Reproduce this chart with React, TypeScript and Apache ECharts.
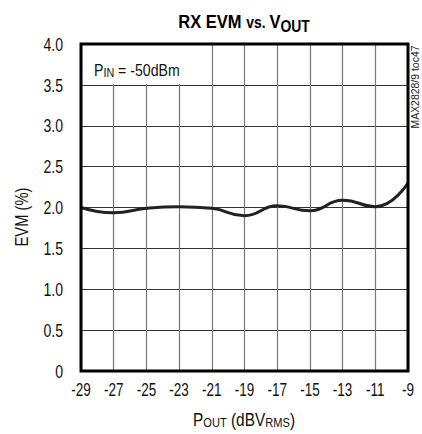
import React, { useEffect, useRef } from "react";
import * as echarts from "echarts";

const pout = [-29, -27, -25, -23, -21, -19, -17, -15, -13, -11, -9];
const evm = [2.0, 1.935, 1.99, 2.01, 1.99, 1.9, 2.02, 1.96, 2.09, 2.01, 2.3];
const xTicks = [-29, -27, -25, -23, -21, -19, -17, -15, -13, -11, -9];
const yTicks = [0, 0.5, 1.0, 1.5, 2.0, 2.5, 3.0, 3.5, 4.0];
const X0 = -29;

const FONT = "'Liberation Sans', Arial, Helvetica, sans-serif";

export default function App() {
  const ref = useRef<HTMLDivElement>(null);
  useEffect(() => {
    if (!ref.current) return;
    const chart = echarts.init(ref.current, undefined, { renderer: "svg" });
    chart.setOption({
      animation: false,
      backgroundColor: "#fff",
      grid: { left: 81, right: 14, top: 44, bottom: 63, show: false },
      xAxis: {
        type: "value",
        min: 0,
        max: xTicks[xTicks.length - 1] - X0,
        interval: 2,
        axisLine: { show: false },
        axisTick: { show: false },
        axisLabel: { show: false },
        splitLine: { show: true, lineStyle: { color: "#777", width: 1.2 } },
      },
      yAxis: {
        type: "value",
        min: 0,
        max: 4,
        interval: 0.5,
        axisLine: { show: false },
        axisTick: { show: false },
        axisLabel: { show: false },
        splitLine: { show: true, lineStyle: { color: "#333", width: 1 } },
      },
      series: [
        {
          type: "line",
          data: pout.map((p, i) => [p - X0, evm[i]]),
          smooth: 0.5,
          symbol: "none",
          lineStyle: { color: "#222", width: 3 },
          z: 5,
        },
      ],
    });

    const px = (x: number, y: number) =>
      chart.convertToPixel({ gridIndex: 0 }, [x, y]) as number[];
    const tl = px(0, 4);
    const br = px(xTicks[xTicks.length - 1] - X0, 0);

    const xLabels = xTicks.map((t) => {
      const p = px(t - X0, 0);
      return {
        type: "text",
        x: p[0],
        y: 390,
        scaleX: 0.75,
        style: {
          text: String(t),
          align: "center",
          verticalAlign: "middle",
          fontFamily: FONT,
          fontSize: 18,
          fill: "#111",
        },
      };
    });
    const yLabels = yTicks.map((t) => {
      const p = px(0, t);
      return {
        type: "text",
        x: 63,
        y: p[1],
        scaleX: 0.78,
        style: {
          text: t === 0 ? "0" : t.toFixed(1),
          align: "right",
          verticalAlign: "middle",
          fontFamily: FONT,
          fontSize: 18,
          fill: "#111",
        },
      };
    });

    chart.setOption({
      graphic: [
        {
          type: "rect",
          shape: { x: tl[0] + 1, y: tl[1] + 1, width: 111, height: 39 },
          style: { fill: "#fff" },
          z: 3,
        },
        {
          type: "rect",
          shape: { x: tl[0], y: tl[1], width: br[0] - tl[0], height: br[1] - tl[1] },
          style: { fill: "none", stroke: "#000", lineWidth: 3 },
          z: 10,
        },
        ...xLabels,
        ...yLabels,
        {
          type: "text",
          x: 244,
          y: 22,
          scaleX: 0.87,
          style: {
            text: "{a|RX EVM }{b|vs. }{a|V}{s|OUT}",
            align: "center",
            verticalAlign: "middle",
            rich: {
              a: { fontFamily: FONT, fontSize: 19, fontWeight: "bold", fill: "#000" },
              b: { fontFamily: FONT, fontSize: 16, fontWeight: "bold", fill: "#000" },
              s: { fontFamily: FONT, fontSize: 16, fontWeight: "bold", fill: "#000", padding: [8, 0, 0, 0] },
            },
          },
        },
        {
          type: "text",
          x: 94,
          y: 70,
          scaleX: 0.83,
          z: 4,
          style: {
            text: "{a|P}{s|IN}{a| = -50dBm}",
            verticalAlign: "middle",
            rich: {
              a: { fontFamily: FONT, fontSize: 17, fill: "#111" },
              s: { fontFamily: FONT, fontSize: 13, fill: "#111", padding: [6, 0, 0, 0] },
            },
          },
        },
        {
          type: "text",
          x: 415,
          y: 87,
          rotation: Math.PI / 2,
          scaleX: 0.95,
          style: {
            text: "MAX2828/9 toc47",
            align: "center",
            verticalAlign: "middle",
            fontFamily: FONT,
            fontSize: 11,
            fill: "#222",
          },
        },
        {
          type: "text",
          x: 21,
          y: 217,
          rotation: Math.PI / 2,
          scaleX: 0.82,
          style: {
            text: "EVM (%)",
            align: "center",
            verticalAlign: "middle",
            fontFamily: FONT,
            fontSize: 18,
            fill: "#111",
          },
        },
        {
          type: "text",
          x: 244,
          y: 420,
          scaleX: 0.855,
          style: {
            text: "{a|P}{s|OUT}{a| (dBV}{s|RMS}{a|)}",
            align: "center",
            verticalAlign: "middle",
            rich: {
              a: { fontFamily: FONT, fontSize: 18, fill: "#111" },
              s: { fontFamily: FONT, fontSize: 13, fill: "#111", padding: [6, 0, 0, 0] },
            },
          },
        },
      ],
    });
    return () => chart.dispose();
  }, []);
  return (
    <div
      ref={ref}
      style={{ position: "fixed", left: 0, top: 0, width: 422, height: 434 }}
    />
  );
}
